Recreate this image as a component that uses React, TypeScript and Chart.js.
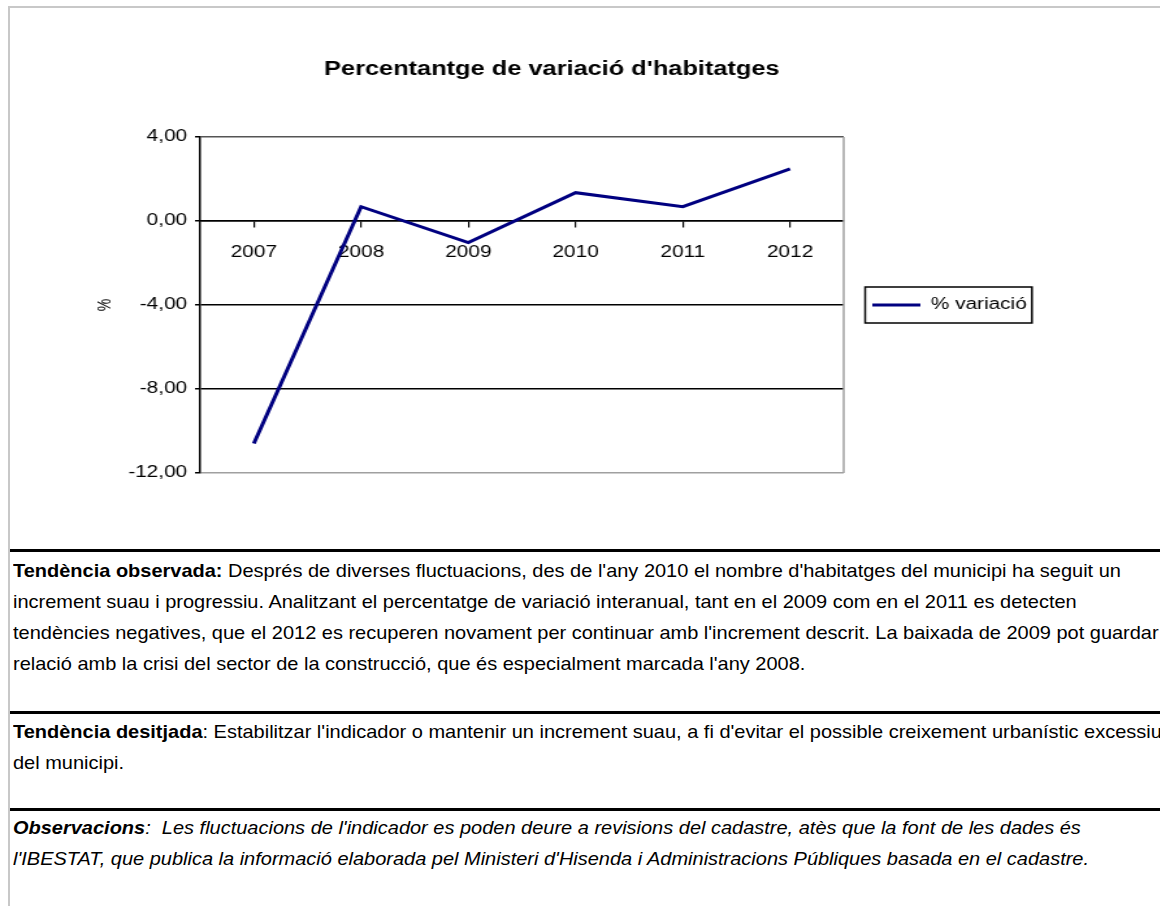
import React, { useEffect, useRef } from 'react';
import { Chart, registerables } from 'chart.js';

Chart.register(...registerables);

const years = ['2007', '2008', '2009', '2010', '2011', '2012'];
const variacio = [-10.6, 0.68, -1.03, 1.35, 0.68, 2.48];
const yTicks = [-12, -8, -4, 0, 4];
const seriesLabel = '% variació';
const chartTitle = "Percentantge de variació d'habitatges";
const yAxisTitle = '%';

const S = 1.3; // horizontal stretch of the chart picture
const CW = 849;
const CH = 540;
const LEGEND_W = 150;
const PAD_L = 50;
const PAD_R = 50;
const FONT = "'Liberation Sans', Arial, Helvetica, sans-serif";

const fmt = (v: number) => v.toFixed(2).replace('.', ',');

const framePlugin = {
  id: 'frameDecor',
  beforeLayout(chart: any) {
    const lg = chart.legend;
    if (lg && !lg.__fixed) {
      const orig = lg.fit.bind(lg);
      lg.fit = function () {
        orig();
        lg.width = LEGEND_W;
      };
      lg.__fixed = true;
    }
  },
  afterDraw(chart: any) {
    const ctx = chart.ctx;
    const a = chart.chartArea;
    ctx.save();
    ctx.strokeStyle = '#a0a0a0';
    ctx.lineWidth = 1.5;
    ctx.beginPath();
    ctx.moveTo(a.right, a.top);
    ctx.lineTo(a.right, a.bottom);
    ctx.stroke();
    const lg = chart.legend;
    if (lg && lg.legendHitBoxes && lg.legendHitBoxes[0]) {
      const hb = lg.legendHitBoxes[0];
      const cy = hb.top + hb.height / 2;
      const x0 = hb.left - 5.5;
      const x1 = hb.left + hb.width + 4;
      ctx.strokeStyle = '#000';
      ctx.lineWidth = 1.5;
      ctx.strokeRect(x0, cy - 18, x1 - x0, 36);
    }
    ctx.restore();
  },
};

export default function App() {
  const ref = useRef<HTMLCanvasElement>(null);

  useEffect(() => {
    if (!ref.current) return;
    Chart.defaults.font.family = FONT;
    const chart = new Chart(ref.current, {
      type: 'line',
      data: {
        labels: years,
        datasets: [
          {
            label: seriesLabel,
            data: variacio,
            borderColor: '#000080',
            backgroundColor: '#000080',
            borderWidth: 3,
            pointRadius: 0,
            tension: 0,
            fill: false,
          },
        ],
      },
      options: {
        animation: false,
        responsive: false,
        devicePixelRatio: 1,
        layout: { padding: { left: PAD_L, right: PAD_R, top: 0, bottom: 67 } },
        scales: {
          x: {
            type: 'category',
            offset: true,
            position: { y: 0 } as any,
            grid: {
              display: true,
              drawOnChartArea: false,
              drawTicks: true,
              tickLength: 6,
              color: '#000',
              lineWidth: 1.2,
            },
            border: { display: true, color: '#000', width: 1.5 },
            ticks: { color: '#000', font: { size: 16 }, padding: 16, maxRotation: 0 },
          },
          y: {
            type: 'linear',
            min: -12,
            max: 4,
            afterBuildTicks: (s: any) => {
              s.ticks = yTicks.map((v) => ({ value: v }));
            },
            afterFit: (s: any) => {
              s.width = 154 - PAD_L;
            },
            grid: {
              color: (c: any) =>
                c.tick && c.tick.value === -12 ? '#a0a0a0' : c.tick && c.tick.value === 4 ? '#555555' : '#000',
              tickColor: '#000',
              lineWidth: 1.5,
              tickLength: 4,
            },
            border: { display: true, color: '#000', width: 1.5 },
            ticks: {
              color: '#000',
              font: { size: 16 },
              padding: 6,
              callback: (v: any) => fmt(Number(v)),
            },
            title: {
              display: true,
              text: yAxisTitle,
              color: '#000',
              font: { size: 14 },
              padding: { top: 22.5, bottom: 0 },
            },
          },
        },
        plugins: {
          title: {
            display: true,
            text: chartTitle,
            color: '#000',
            font: { size: 19.5, weight: 'bold' },
            padding: { top: 58, bottom: 55.6 },
          },
          legend: {
            display: true,
            position: 'right',
            fullSize: false,
            align: 'center',
            labels: {
              color: '#000',
              font: { size: 16 },
              boxWidth: 37,
              boxHeight: 3,
              padding: 22,
              generateLabels: (ch: any) =>
                ch.data.datasets.map((d: any, i: number) => ({
                  text: d.label,
                  fillStyle: d.borderColor,
                  strokeStyle: d.borderColor,
                  lineWidth: 0,
                  hidden: false,
                  datasetIndex: i,
                  fontColor: '#000',
                })),
            },
          },
          tooltip: { enabled: false },
        },
      },
      plugins: [framePlugin],
    } as any);
    return () => chart.destroy();
  }, []);

  const txt: React.CSSProperties = {
    position: 'absolute',
    left: 13,
    fontFamily: FONT,
    fontSize: 18.5,
    lineHeight: '31px',
    whiteSpace: 'nowrap',
    color: '#000',
    transform: 'scaleX(1.08)',
    transformOrigin: '0 0',
  };
  const rule = (top: number): React.CSSProperties => ({
    position: 'absolute',
    left: 10,
    top,
    width: 1150,
    height: 3,
    background: '#000',
  });

  return (
    <div
      style={{
        position: 'absolute',
        left: 0,
        top: 0,
        width: 1160,
        height: 906,
        background: '#fff',
        overflow: 'hidden',
      }}
    >
      <div style={{ position: 'absolute', left: 8, top: 6, width: 1152, height: 2, background: '#c8c8c8' }} />
      <div style={{ position: 'absolute', left: 8, top: 6, width: 2, height: 900, background: '#c8c8c8' }} />
      <canvas
        ref={ref}
        width={CW}
        height={CH}
        style={{
          position: 'absolute',
          left: 0,
          top: 0,
          width: CW,
          height: CH,
          transform: `scaleX(${S})`,
          transformOrigin: '0 0',
        }}
      />
      <div style={rule(549)} />
      <div style={{ ...txt, top: 555 }}>
        <b>Tendència observada:</b> Després de diverses fluctuacions, des de l'any 2010 el nombre d'habitatges del municipi ha seguit un
        <br />
        increment suau i progressiu. Analitzant el percentatge de variació interanual, tant en el 2009 com en el 2011 es detecten
        <br />
        tendències negatives, que el 2012 es recuperen novament per continuar amb l'increment descrit. La baixada de 2009 pot guardar
        <br />
        relació amb la crisi del sector de la construcció, que és especialment marcada l'any 2008.
      </div>
      <div style={rule(711)} />
      <div style={{ ...txt, top: 716 }}>
        <b>Tendència desitjada</b>: Estabilitzar l'indicador o mantenir un increment suau, a fi d'evitar el possible creixement urbanístic excessiu
        <br />
        del municipi.
      </div>
      <div style={rule(808)} />
      <div style={{ ...txt, top: 812 }}>
        <b>
          <i>Observacions</i>
        </b>
        <i>:&nbsp; Les fluctuacions de l'indicador es poden deure a revisions del cadastre, atès que la font de les dades és</i>
        <br />
        <i>l'IBESTAT, que publica la informació elaborada pel Ministeri d'Hisenda i Administracions Públiques basada en el cadastre.</i>
      </div>
    </div>
  );
}
